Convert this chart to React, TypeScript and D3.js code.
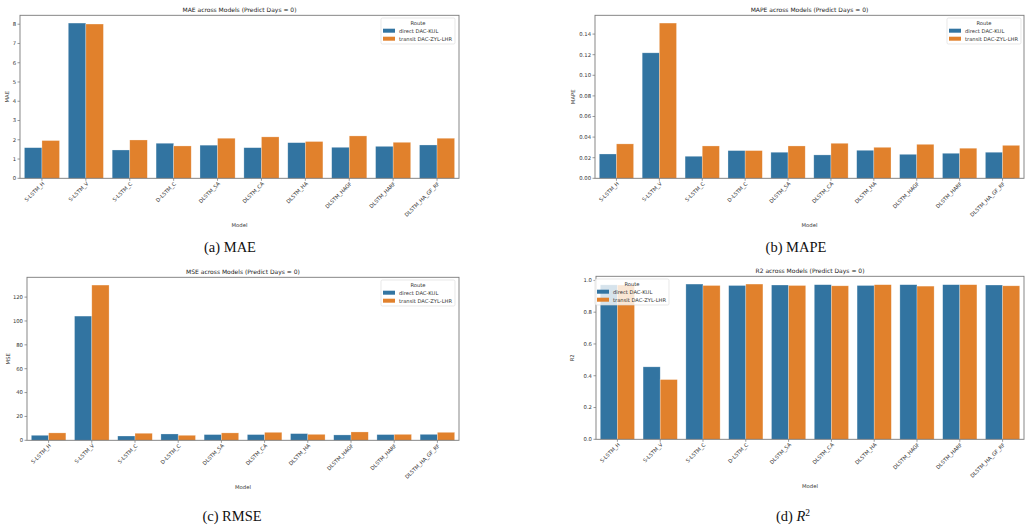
import React from "react";
import * as d3 from "d3";

// models on the x axis, two routes as hue
const models = [
  "S-LSTM_H",
  "S-LSTM_V",
  "S-LSTM_C",
  "D-LSTM_C",
  "DLSTM_SA",
  "DLSTM_CA",
  "DLSTM_HA",
  "DLSTM_HAGF",
  "DLSTM_HARF",
  "DLSTM_HA_GF_RF",
];
const routes = ["direct DAC-KUL", "transit DAC-ZYL-LHR"];
const routeColors = ["#3274a1", "#e1812c"];

const maeDirect = [1.59, 8.06, 1.47, 1.82, 1.72, 1.59, 1.85, 1.61, 1.66, 1.73];
const maeTransit = [1.96, 8.01, 1.99, 1.68, 2.08, 2.15, 1.91, 2.2, 1.87, 2.08];

const mapeDirect = [0.0236, 0.1218, 0.0214, 0.0269, 0.0253, 0.0227, 0.0272, 0.0233, 0.0243, 0.0253];
const mapeTransit = [0.0334, 0.1507, 0.0314, 0.0269, 0.0314, 0.034, 0.0301, 0.033, 0.0292, 0.032];

const mseDirect = [4.2, 104.1, 3.6, 5.3, 4.8, 4.8, 5.6, 4.5, 4.8, 5.0];
const mseTransit = [6.2, 130.1, 5.9, 4.2, 6.2, 6.7, 5.0, 7.0, 5.0, 6.7];

const r2Direct = [0.972, 0.456, 0.977, 0.968, 0.971, 0.973, 0.968, 0.973, 0.973, 0.971];
const r2Transit = [0.971, 0.376, 0.968, 0.977, 0.968, 0.966, 0.973, 0.964, 0.973, 0.966];

const maeTicks = [0, 1, 2, 3, 4, 5, 6, 7, 8];
const mapeTicks = [0, 0.02, 0.04, 0.06, 0.08, 0.1, 0.12, 0.14];
const mseTicks = [0, 20, 40, 60, 80, 100, 120];
const r2Ticks = [0, 0.2, 0.4, 0.6, 0.8, 1.0];

const FONT = "DejaVu Sans";

interface Box {
  left: number;
  right: number;
  top: number;
  bottom: number;
}

interface PanelProps {
  title: string;
  yLabel: string;
  direct: number[];
  transit: number[];
  ticks: number[];
  fmt: (v: number) => string;
  box: Box;
  yLabelX: number;
  modelY: number;
  legend: { x: number; y: number };
  legendAlpha?: number;
}

const Panel: React.FC<PanelProps> = ({
  title,
  yLabel,
  direct,
  transit,
  ticks,
  fmt,
  box,
  yLabelX,
  modelY,
  legend,
  legendAlpha = 1,
}) => {
  const maxV = d3.max([...direct, ...transit]) as number;
  const y = d3
    .scaleLinear()
    .domain([0, maxV * 1.05])
    .range([box.bottom, box.top]);
  const x = d3
    .scaleBand()
    .domain(models)
    .range([box.left, box.right])
    .paddingInner(0.2)
    .paddingOuter(0.1);
  const hue = d3.scaleBand().domain(routes).range([0, x.bandwidth()]);
  const series = [direct, transit];
  const midX = (box.left + box.right) / 2;
  const midY = (box.top + box.bottom) / 2;

  return (
    <g>
      <text
        x={midX}
        y={box.top - 3}
        textAnchor="middle"
        fontSize={6}
        fill="#222"
        fontFamily={FONT}
      >
        {title}
      </text>

      {series.map((vals, si) =>
        vals.map((v, i) => (
          <rect
            key={`${si}-${i}`}
            x={(x(models[i]) as number) + (hue(routes[si]) as number)}
            y={y(v)}
            width={hue.bandwidth()}
            height={box.bottom - y(v)}
            fill={routeColors[si]}
            stroke="rgba(255,255,255,0.45)"
            strokeWidth={0.6}
          />
        ))
      )}

      {/* y axis */}
      {ticks.map((t) => (
        <g key={t}>
          <line x1={box.left - 2.5} x2={box.left} y1={y(t)} y2={y(t)} stroke="#555" strokeWidth={0.6} />
          <text
            x={box.left - 4}
            y={y(t)}
            dy="0.35em"
            textAnchor="end"
            fontSize={5.3}
            fill="#333"
            fontFamily={FONT}
          >
            {fmt(t)}
          </text>
        </g>
      ))}
      <text
        transform={`translate(${yLabelX},${midY}) rotate(-90)`}
        textAnchor="middle"
        fontSize={5.3}
        fill="#333"
        fontFamily={FONT}
      >
        {yLabel}
      </text>

      {/* x axis */}
      {models.map((m) => {
        const cx = (x(m) as number) + x.bandwidth() / 2;
        return (
          <g key={m}>
            <line x1={cx} x2={cx} y1={box.bottom} y2={box.bottom + 2.5} stroke="#555" strokeWidth={0.6} />
            <text
              transform={`translate(${cx + 1.5},${box.bottom + 4.5}) rotate(-45)`}
              textAnchor="end"
              dy="0.35em"
              fontSize={5.2}
              fill="#333"
              fontFamily={FONT}
            >
              {m}
            </text>
          </g>
        );
      })}
      <text
        x={midX}
        y={modelY}
        textAnchor="middle"
        fontSize={5.3}
        fill="#333"
        fontFamily={FONT}
      >
        Model
      </text>

      {/* frame */}
      <rect
        x={box.left}
        y={box.top}
        width={box.right - box.left}
        height={box.bottom - box.top}
        fill="none"
        stroke="#7a7a7a"
        strokeWidth={0.9}
      />

      {/* legend */}
      <g transform={`translate(${legend.x},${legend.y})`}>
        <rect
          width={74}
          height={26}
          rx={1.5}
          fill="white"
          fillOpacity={legendAlpha}
          stroke="#d8d8d8"
          strokeWidth={0.6}
        />
        <text x={37} y={5} dy="0.35em" textAnchor="middle" fontSize={5.2} fill="#333" fontFamily={FONT}>
          Route
        </text>
        {routes.map((r, i) => (
          <g key={r} transform={`translate(0,${12.7 + i * 8})`}>
            <rect x={2} y={-2} width={12} height={4} fill={routeColors[i]} />
            <text x={18} y={0} dy="0.35em" fontSize={5.2} fill="#333" fontFamily={FONT}>
              {r}
            </text>
          </g>
        ))}
      </g>
    </g>
  );
};

const Caption: React.FC<{ x: number; y: number; children: React.ReactNode }> = ({ x, y, children }) => (
  <text
    x={x}
    y={y}
    textAnchor="middle"
    fontSize={14.5}
    fill="#111"
    fontFamily="Liberation Serif"
  >
    {children}
  </text>
);

const fmtInt = d3.format("d");
const fmt2 = d3.format(".2f");
const fmt1 = d3.format(".1f");

export default function App() {
  return (
    <svg
      width={1031}
      height={529}
      style={{ position: "absolute", left: 0, top: 0, background: "white" }}
    >
      <Panel
        title="MAE across Models (Predict Days = 0)"
        yLabel="MAE"
        direct={maeDirect}
        transit={maeTransit}
        ticks={maeTicks}
        fmt={fmtInt}
        box={{ left: 20, right: 459, top: 15.3, bottom: 178.3 }}
        yLabelX={9}
        modelY={226.5}
        legend={{ x: 381, y: 18 }}
      />
      <Panel
        title="MAPE across Models (Predict Days = 0)"
        yLabel="MAPE"
        direct={mapeDirect}
        transit={mapeTransit}
        ticks={mapeTicks}
        fmt={fmt2}
        box={{ left: 595, right: 1024, top: 15.3, bottom: 178.3 }}
        yLabelX={575}
        modelY={226.5}
        legend={{ x: 947, y: 18 }}
      />
      <Panel
        title="MSE across Models (Predict Days = 0)"
        yLabel="MSE"
        direct={mseDirect}
        transit={mseTransit}
        ticks={mseTicks}
        fmt={fmtInt}
        box={{ left: 27, right: 459, top: 277.3, bottom: 440.3 }}
        yLabelX={10}
        modelY={488.5}
        legend={{ x: 381, y: 280 }}
      />
      <Panel
        title="R2 across Models (Predict Days = 0)"
        yLabel="R2"
        direct={r2Direct}
        transit={r2Transit}
        ticks={r2Ticks}
        fmt={fmt1}
        box={{ left: 596, right: 1024, top: 276.3, bottom: 439.3 }}
        yLabelX={574}
        modelY={487.5}
        legend={{ x: 595, y: 279 }}
        legendAlpha={0.8}
      />

      <Caption x={230} y={252}>(a) MAE</Caption>
      <Caption x={796} y={252}>(b) MAPE</Caption>
      <Caption x={232} y={521}>(c) RMSE</Caption>
      <Caption x={793} y={521}>
        (d) <tspan fontStyle="italic">R</tspan>
        <tspan fontSize={9.5} dy={-5.5}>2</tspan>
      </Caption>
    </svg>
  );
}
